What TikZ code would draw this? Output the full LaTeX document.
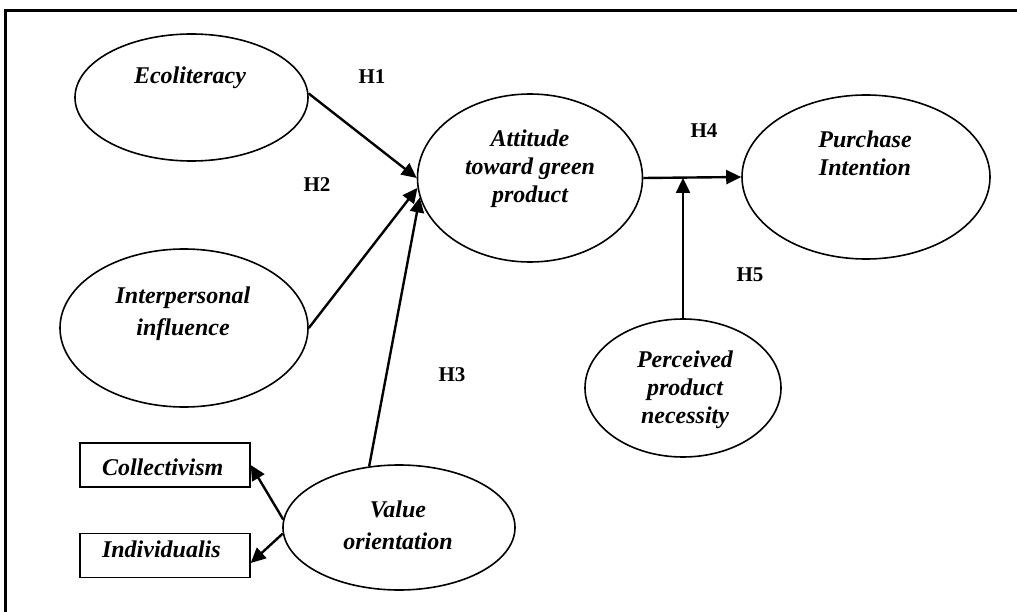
\documentclass[tikz,border=0pt]{standalone}
\usepackage{fontspec}
\setmainfont{Liberation Serif}
\usetikzlibrary{shapes.geometric,arrows.meta}
\tikzset{
  oval/.style={draw, ellipse, line width=1.6pt, inner sep=0pt},
  lbl/.style={font=\fontsize{24}{28}\selectfont\bfseries\itshape, align=center, inner sep=0pt},
  lblwide/.style={font=\fontsize{24}{32}\selectfont\bfseries\itshape, align=center, inner sep=0pt},
  hyp/.style={font=\fontsize{21}{25}\selectfont\bfseries, inner sep=0pt},
  boxnode/.style={draw, rectangle, line width=1.4pt, minimum width=170pt, minimum height=44pt,
     inner xsep=22pt, text width=126pt, align=left, font=\fontsize{24}{28}\selectfont\bfseries\itshape},
  conn/.style={line width=2.4pt, -{Triangle[length=15pt,width=14pt]}},
  frameline/.style={line width=3pt}
}
\begin{document}
\begin{tikzpicture}[x=1pt,y=-1pt]
\fill[white] (0,0) rectangle (1017,612);
\useasboundingbox (0,0) rectangle (1017,612);
% frame
\coordinate (fb) at (5.5,612);
\coordinate (fc) at (5.5,11);
\coordinate (fr) at (1017,11);
\draw[frameline] (fb) -- (fc) -- (fr);

% ellipses
\node[oval, minimum width=233pt, minimum height=127pt] (eco) at (191.5,97.5) {};
\node[oval, minimum width=248pt, minimum height=158pt] (ip) at (184,328) {};
\node[oval, minimum width=225pt, minimum height=168pt] (att) at (530,178) {};
\node[oval, minimum width=248pt, minimum height=164pt] (pi) at (866,177) {};
\node[oval, minimum width=196pt, minimum height=138pt] (pn) at (683,388) {};
\node[oval, minimum width=232pt, minimum height=125pt] (val) at (399,527.5) {};

% ellipse texts
\node[lbl] (ecoT) at (190,77.5) {Ecoliteracy};
\node[lblwide] (ipT) at (183,313.5) {Interpersonal\\influence};
\node[lbl] (attT) at (530,169) {Attitude\\toward green\\product};
\node[lbl] (piT) at (865,153.5) {Purchase\\Intention};
\node[lbl] (pnT) at (685,389.5) {Perceived\\product\\necessity};
\node[lblwide] (valT) at (398,525.5) {Value\\orientation};

% boxes
\node[boxnode, text height=24pt, text depth=4pt] (col) at (165,465) {Collectivism};
\node[boxnode, text height=10pt, text depth=6pt] (ind) at (165,555.5) {Individualis};

% hypothesis labels
\node[hyp] (h1) at (372,77) {H1};
\node[hyp] (h2) at (317,185) {H2};
\node[hyp] (h3) at (452,375) {H3};
\node[hyp] (h4) at (704,131) {H4};
\node[hyp] (h5) at (750,275) {H5};

% connectors
\coordinate (j) at (683,178);
\draw[conn] (eco.2) -- (att.west);
\draw[conn] (ip.east) -- (att.185);
\draw[conn] (val.116) -- (att.190);
\draw[conn] (att.east) -- (pi.west);
\draw[conn] (pn.north) -- (j);
\draw[conn] (val.176) -- (col.east);
\draw[conn] (val.183) -- (ind.-5);
\end{tikzpicture}
\end{document}
